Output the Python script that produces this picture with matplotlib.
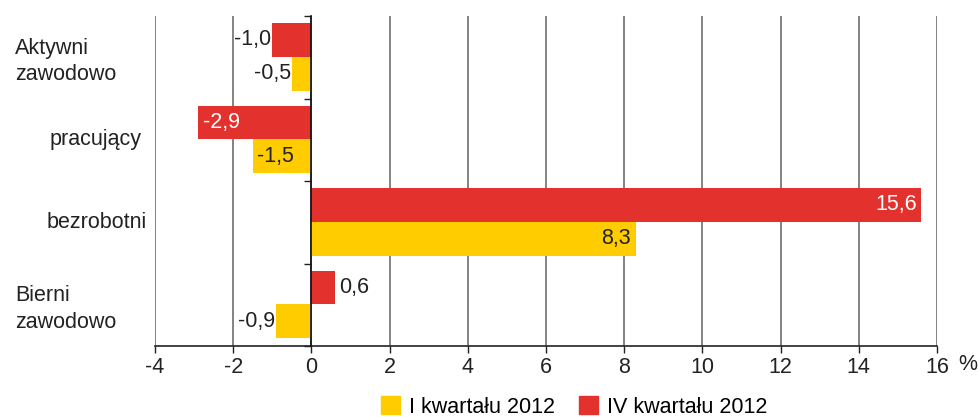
import matplotlib.pyplot as plt
from matplotlib.patches import Patch
from matplotlib.transforms import blended_transform_factory
import numpy as np

plt.rcParams['font.family'] = ['Liberation Sans', 'DejaVu Sans']

# data
categories = ["Aktywni\nzawodowo", "pracujący", "bezrobotni", "Bierni\nzawodowo"]
iv_kw = [-1.0, -2.9, 15.6, 0.6]    # IV kwartału 2012 (red)
i_kw = [-0.5, -1.5, 8.3, -0.9]     # I kwartału 2012 (yellow)
xticks = list(range(-4, 17, 2))

RED = "#e3312d"
YEL = "#ffcc00"
TXT = "#222222"
FS = 15.5

fig = plt.figure(figsize=(9.79, 4.17), dpi=100)
ax = fig.add_axes([155/979, 1-346/417, 782/979, 330/417])

pos = np.arange(len(categories))
h = 0.41
red_y = pos + 0.29
yel_y = pos + 0.70
ax.barh(red_y, iv_kw, height=h, color=RED, zorder=3)
ax.barh(yel_y, i_kw, height=h, color=YEL, zorder=3)

ax.set_xlim(-4, 16)
ax.set_ylim(len(categories), 0)
ax.set_xticks(xticks)
ax.set_xticklabels([str(t) for t in xticks], fontsize=FS, color=TXT)
ax.tick_params(axis='x', length=5, width=1, color=TXT, pad=3)
ax.grid(axis='x', color="#6e6e6e", linewidth=1.2, zorder=0)

for s in ['top', 'right']:
    ax.spines[s].set_visible(False)
ax.spines['bottom'].set_color(TXT)
ax.spines['bottom'].set_linewidth(1.2)
ax.spines['left'].set_position(('data', 0))
ax.spines['left'].set_color("#111111")
ax.spines['left'].set_linewidth(1.2)
ax.spines['left'].set_zorder(4)
ax.set_yticks(np.arange(len(categories) + 1))
ax.set_yticklabels([])
ax.tick_params(axis='y', length=5, width=1, color=TXT)


def fmt(v):
    return f"{v:.1f}".replace(".", ",")


def put_label(y, v, inside, white):
    col = "white" if white else TXT
    if inside:
        ha = 'right' if v > 0 else 'left'
        off = -0.12 if v > 0 else 0.12
    else:
        ha = 'left' if v > 0 else 'right'
        off = 0.1 if v > 0 else -0.03
    ax.text(v + off, y, fmt(v), ha=ha, va='center', fontsize=FS, color=col, zorder=5)


inside_red = [False, True, True, False]
inside_yel = [False, True, True, False]
for i in range(len(categories)):
    put_label(red_y[i], iv_kw[i], inside_red[i], inside_red[i])
    put_label(yel_y[i], i_kw[i], inside_yel[i], False)

# category labels
tr = blended_transform_factory(fig.transFigure, ax.transData)
label_x = [15, 50, 47, 15]
for i, c in enumerate(categories):
    dy = 0.05 if "\n" in c else 0.0
    ax.text(label_x[i] / 979, pos[i] + 0.5 + dy, c, transform=tr, ha='left', va='center',
            fontsize=FS, color=TXT, linespacing=1.35)

fig.text(968/979, 1-364/417, "%", ha='center', va='center', fontsize=FS, color=TXT)

handles = [Patch(color=YEL, label="I kwartału 2012"), Patch(color=RED, label="IV kwartału 2012")]
fig.legend(handles=handles, loc='center', bbox_to_anchor=(574/979, 1-407/417), ncol=2,
           frameon=False, fontsize=FS, handlelength=0.9, handleheight=0.9,
           handletextpad=0.4, columnspacing=1.1, borderpad=0, borderaxespad=0)

fig.savefig("out.png", dpi=100)
